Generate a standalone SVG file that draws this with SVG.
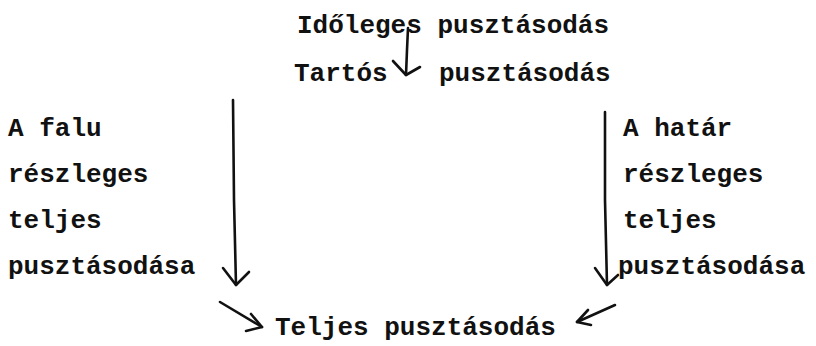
<svg xmlns="http://www.w3.org/2000/svg" width="816" height="346" viewBox="0 0 816 346">
<style>
text{font-family:"Liberation Mono","Courier New",monospace;font-weight:bold;font-size:26px;fill:#111}
.ln{fill:none;stroke:#111;stroke-width:2.6;stroke-linecap:round;stroke-linejoin:round}
</style>
<rect width="816" height="346" fill="#fff"/>
<g id="node-idoleges"><text x="297" y="33">Időleges pusztásodás</text></g>
<g id="node-tartos"><text x="294" y="81">Tartós</text><text x="439" y="81">pusztásodás</text></g>
<g id="node-falu">
<text x="8" y="136">A falu</text>
<text x="8" y="182">részleges</text>
<text x="8" y="228">teljes</text>
<text x="8" y="274">pusztásodása</text>
</g>
<g id="node-hatar">
<text x="623" y="136">A határ</text>
<text x="623" y="182">részleges</text>
<text x="623" y="228">teljes</text>
<text x="618" y="274">pusztásodása</text>
</g>
<g id="node-teljes"><text x="275" y="335">Teljes pusztásodás</text></g>
<g id="connectors">
<path class="ln" d="M408 28 L407 50 L406 75"/>
<path class="ln" d="M393 61 L406 75 L420 67"/>
<path class="ln" d="M233 100 L234 200 L236 285"/>
<path class="ln" d="M223 268 L236 285 L249 272"/>
<path class="ln" d="M605 112 L605 200 L607 285"/>
<path class="ln" d="M595 268 L607 285 L618 275"/>
<path class="ln" d="M220 302 L262 327"/>
<path class="ln" d="M251 314 L262 327 L246 331"/>
<path class="ln" d="M615 305 L577 322"/>
<path class="ln" d="M588 310 L577 322 L591 325"/>
</g>
</svg>
